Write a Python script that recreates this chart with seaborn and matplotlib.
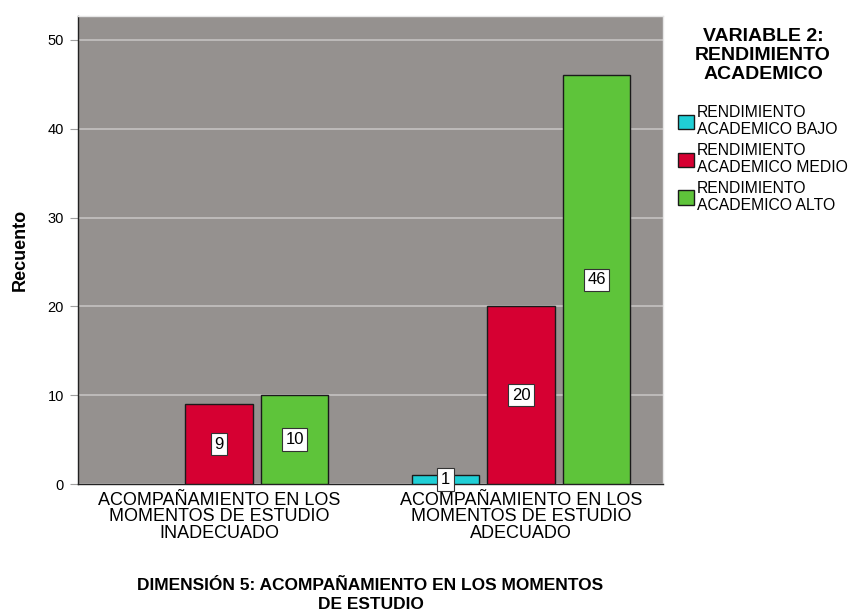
import matplotlib
matplotlib.use('Agg')
import matplotlib.pyplot as plt
from matplotlib.patches import Patch
import seaborn as sns
import pandas as pd

categories = ["ACOMPAÑAMIENTO EN LOS\nMOMENTOS DE ESTUDIO\nINADECUADO",
              "ACOMPAÑAMIENTO EN LOS\nMOMENTOS DE ESTUDIO\nADECUADO"]
levels = ["RENDIMIENTO\nACADEMICO BAJO",
          "RENDIMIENTO\nACADEMICO MEDIO",
          "RENDIMIENTO\nACADEMICO ALTO"]
counts_bajo = [0, 1]
counts_medio = [9, 20]
counts_alto = [10, 46]
colors = ["#20cfd6", "#d60032", "#5ec43a"]

rows = []
for lvl, vals in zip(levels, [counts_bajo, counts_medio, counts_alto]):
    for cat, v in zip(categories, vals):
        rows.append({"cat": cat, "nivel": lvl, "n": v})
df = pd.DataFrame(rows)

sns.set_style("white")
plt.rcParams['font.family'] = ['Liberation Sans', 'DejaVu Sans']
plt.rcParams['text.color'] = 'black'
plt.rcParams['axes.labelcolor'] = 'black'
plt.rcParams['xtick.color'] = 'black'
plt.rcParams['ytick.color'] = 'black'

fig = plt.figure(figsize=(8.52, 6.15), dpi=100)
ax = fig.add_axes([78/852, 1 - 484/615, 585/852, 468/615])

sns.barplot(data=df, x="cat", y="n", hue="nivel", hue_order=levels,
            palette=colors, saturation=1, width=0.75, gap=0.11,
            edgecolor="#1a1a1a", linewidth=1.0, ax=ax, zorder=3, legend=False)

# drop empty bars and write value boxes
for p in list(ax.patches):
    h = p.get_height()
    if h == 0 or pd.isna(h):
        p.remove()
        continue
    ax.text(p.get_x() + p.get_width() / 2, max(h / 2, 0.3), f"{int(h)}",
            ha="center", va="center", fontsize=12, zorder=5,
            bbox=dict(boxstyle="square,pad=0.22", fc="white", ec="#333333", lw=0.8))

ax.set_facecolor("#95918f")
ax.set_ylim(0, 52.7)
ax.set_xlim(-0.467, 1.47)
ax.set_yticks([0, 10, 20, 30, 40, 50])
ax.yaxis.grid(True, color="#c4c2c1", lw=1.2, zorder=1)
ax.set_axisbelow(True)
ax.tick_params(axis='y', left=True, length=6, color="#a0a0a0", labelsize=10.5, pad=4)
ax.tick_params(axis='x', bottom=False, labelsize=13, pad=2)
for lab in ax.get_xticklabels():
    lab.set_linespacing(0.98)
for s in ["left", "bottom"]:
    ax.spines[s].set_color("#222222")
    ax.spines[s].set_linewidth(1)
for s in ["top", "right"]:
    ax.spines[s].set_color("#e6e6e6")
    ax.spines[s].set_linewidth(1)

ax.set_ylabel("Recuento", fontsize=13, fontweight="bold", labelpad=14)
ax.set_xlabel("DIMENSIÓN 5: ACOMPAÑAMIENTO EN LOS MOMENTOS\nDE ESTUDIO",
              fontsize=12.5, fontweight="bold", labelpad=26, linespacing=1.3)

handles = [Patch(facecolor=c, edgecolor="#1a1a1a", lw=1.0) for c in colors]
leg = ax.legend(handles, levels, title="VARIABLE 2:\nRENDIMIENTO\nACADEMICO",
                loc="upper left", bbox_to_anchor=(1.01, 0.995), frameon=False,
                fontsize=11.3, title_fontproperties={"weight": "bold", "size": 14},
                handlelength=1.0, handleheight=1.0, handletextpad=0.2,
                labelspacing=0.35, borderaxespad=0.2)
leg.get_title().set_multialignment("center")
leg.get_title().set_linespacing(1.15)
leg._legend_box.sep = 16
for t in leg.get_texts():
    t.set_linespacing(1.2)

plt.savefig("out.png", dpi=100)
